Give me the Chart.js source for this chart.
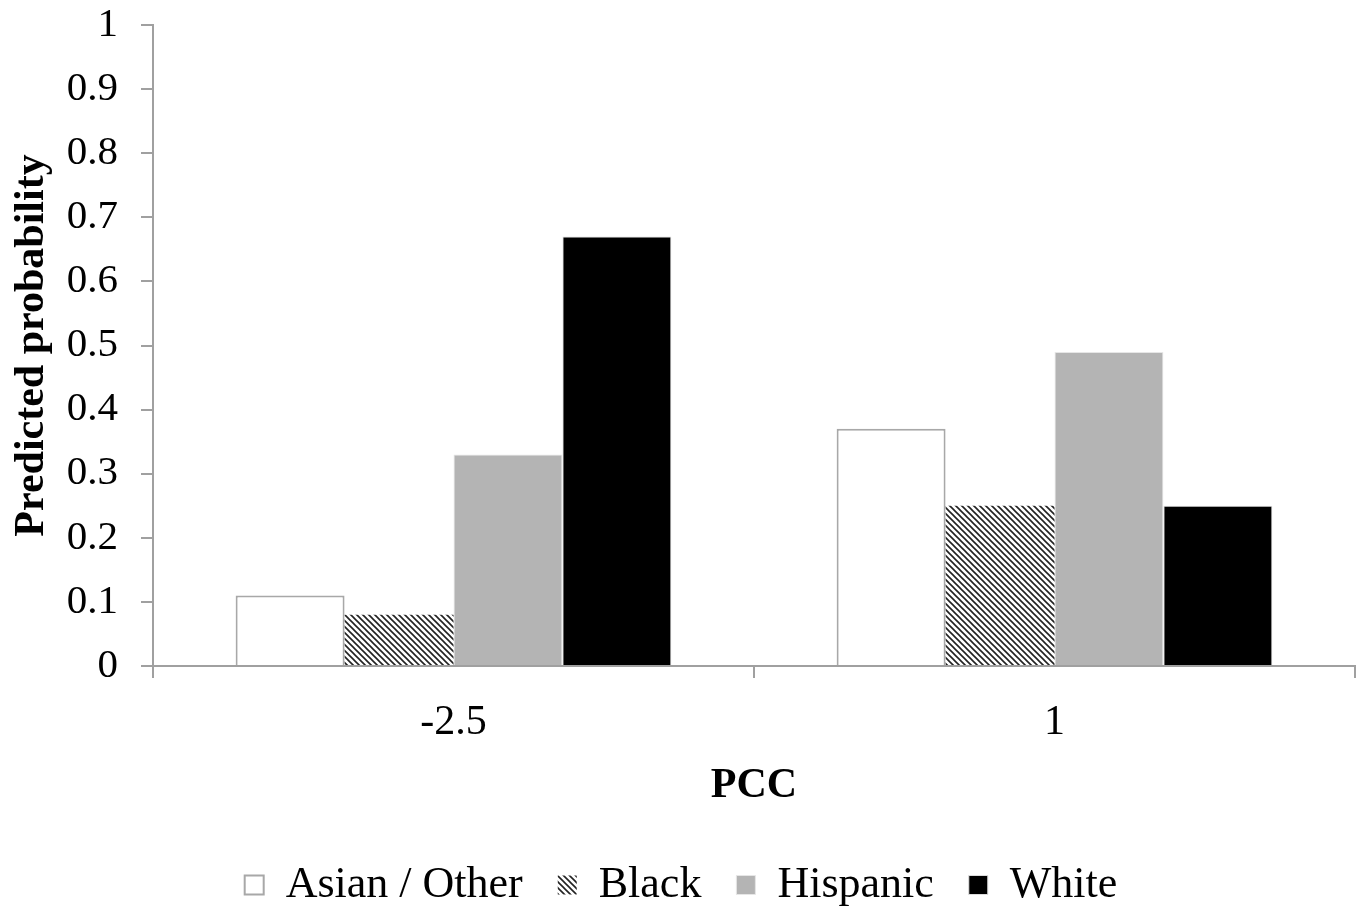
<!DOCTYPE html>
<html><head><meta charset="utf-8">
<script src="https://cdn.jsdelivr.net/npm/chart.js@4.4.1/dist/chart.umd.min.js"></script>
<style>html,body{margin:0;padding:0;background:#fff;}#wrap{width:1365px;height:908px;}</style>
</head><body><div id="wrap"><canvas id="c" width="1365" height="908"></canvas></div>
<script>
const categories = ['-2.5', '1'];
const seriesNames = ['Asian / Other', 'Black', 'Hispanic', 'White'];
const asianOther = [0.11, 0.37];
const black = [0.08, 0.25];
const hispanic = [0.33, 0.49];
const white = [0.67, 0.25];
const yTicks = [0, 0.1, 0.2, 0.3, 0.4, 0.5, 0.6, 0.7, 0.8, 0.9, 1];

function hatch() {
  const s = 6, c = document.createElement('canvas');
  c.width = s; c.height = s;
  const g = c.getContext('2d');
  g.fillStyle = '#fff'; g.fillRect(0, 0, s, s);
  g.strokeStyle = '#222'; g.lineWidth = 1.6;
  g.beginPath();
  g.moveTo(-1, -1); g.lineTo(s + 1, s + 1);
  g.moveTo(s - 1, -1); g.lineTo(s + 1, 1);
  g.moveTo(-1, s - 1); g.lineTo(1, s + 1);
  g.stroke();
  return g.createPattern(c, 'repeat');
}
const ctx = document.getElementById('c').getContext('2d');
const pat = hatch();
const serif = "'Liberation Serif', 'Times New Roman', serif";

new Chart(ctx, {
  type: 'bar',
  data: {
    labels: categories,
    datasets: [
      {label: seriesNames[0], data: asianOther, backgroundColor: '#ffffff', borderColor: '#a8a8a8', borderWidth: 2},
      {label: seriesNames[1], data: black, backgroundColor: pat, borderColor: '#ffffff', borderWidth: 0},
      {label: seriesNames[2], data: hispanic, backgroundColor: '#b4b4b4', borderColor: '#e6e6e6', borderWidth: 1},
      {label: seriesNames[3], data: white, backgroundColor: '#000000', borderColor: '#dcdcdc', borderWidth: 1}
    ]
  },
  options: {
    responsive: false,
    animation: false,
    layout: {padding: {left: 7, right: 10, top: 25, bottom: -9}},
    datasets: {bar: {categoryPercentage: 0.725, barPercentage: 1.0}},
    plugins: {
      tooltip: {enabled: false},
      legend: {
        position: 'bottom',
        labels: {
          color: '#000',
          font: {family: serif, size: 44},
          boxWidth: 19, boxHeight: 19, padding: 35
        }
      }
    },
    scales: {
      x: {
        afterFit: (s) => { s.height = 162; },
        grid: {display: true, drawOnChartArea: false, drawTicks: true, tickLength: 12, color: '#a0a0a0', lineWidth: 2, offset: true},
        border: {display: true, color: '#a0a0a0', width: 2},
        ticks: {color: '#000', font: {family: serif, size: 42}, padding: 20},
        title: {display: true, text: 'PCC', color: '#000', font: {family: serif, size: 42, weight: 'bold'}, padding: {top: 0, bottom: 17}}
      },
      y: {
        min: 0, max: 1,
        afterBuildTicks: (s) => { s.ticks = yTicks.map(v => ({value: v})); },
        afterFit: (s) => { s.width = 146; s.paddingTop = 0; s.paddingBottom = 0; },
        grid: {display: true, drawOnChartArea: false, drawTicks: true, tickLength: 12, color: '#a0a0a0', lineWidth: 2},
        border: {display: true, color: '#a0a0a0', width: 2},
        ticks: {color: '#000', font: {family: serif, size: 41}, padding: 23, callback: (v) => String(v)},
        title: {display: true, text: 'Predicted probability', color: '#000', font: {family: serif, size: 42, weight: 'bold'}, padding: {top: 0, bottom: 0}}
      }
    }
  }
});
</script>
</body></html>
